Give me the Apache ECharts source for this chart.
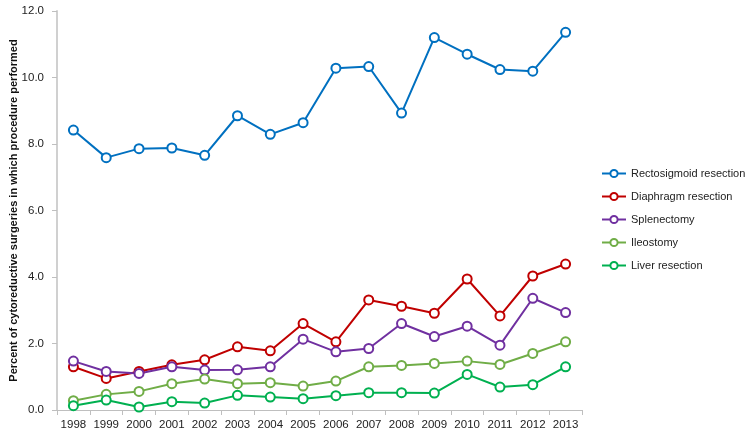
<!DOCTYPE html>
<html><head><meta charset="utf-8">
<script src="https://cdn.jsdelivr.net/npm/echarts@6/dist/echarts.min.js"></script>
<style>html,body{margin:0;padding:0;background:#fff}#c{width:754px;height:436px}</style>
</head><body><div id="c"></div>
<script>
const years = ['1998','1999','2000','2001','2002','2003','2004','2005','2006','2007','2008','2009','2010','2011','2012','2013'];
const rectosigmoid = [8.42,7.59,7.86,7.88,7.66,8.85,8.29,8.64,10.28,10.33,8.93,11.20,10.70,10.24,10.19,11.36];
const diaphragm = [1.30,0.95,1.16,1.36,1.51,1.90,1.78,2.60,2.05,3.31,3.12,2.91,3.94,2.83,4.03,4.39];
const splenectomy = [1.47,1.16,1.10,1.30,1.20,1.21,1.30,2.13,1.75,1.85,2.60,2.21,2.52,1.95,3.36,2.93];
const ileostomy = [0.28,0.47,0.56,0.79,0.93,0.79,0.82,0.72,0.87,1.30,1.34,1.40,1.47,1.37,1.70,2.05];
const liver = [0.13,0.30,0.09,0.25,0.21,0.44,0.39,0.34,0.43,0.52,0.52,0.51,1.07,0.69,0.76,1.30];
const seriesNames = ['Rectosigmoid resection','Diaphragm resection','Splenectomy','Ileostomy','Liver resection'];
const colors = ['#0070C0','#C00000','#7030A0','#70AD47','#00B050'];
const yTicks = {min:0, max:12, interval:2};

const font = 'Liberation Sans, Arial, sans-serif';
const dataSets = [rectosigmoid, diaphragm, splenectomy, ileostomy, liver];
const chart = echarts.init(document.getElementById('c'));
chart.setOption({
  animation:false,
  backgroundColor:'#fff',
  textStyle:{fontFamily:font},
  grid:{left:57,right:172,top:11,bottom:26,containLabel:false,outerBoundsMode:'none'},
  legend:{
    orient:'vertical', left:596, top:163, itemGap:12, itemWidth:24, itemHeight:9,
    textStyle:{fontSize:11,color:'#222',fontFamily:font},
    data:seriesNames
  },
  xAxis:{
    type:'category', data:years, boundaryGap:true,
    axisLine:{lineStyle:{color:'#bfbfbf',width:1}},
    axisTick:{show:true,length:5,lineStyle:{color:'#bfbfbf'}},
    axisLabel:{fontSize:11.5,color:'#222',margin:9,fontFamily:font,interval:0}
  },
  yAxis:{
    type:'value', min:yTicks.min, max:yTicks.max, interval:yTicks.interval,
    name:'Percent of cytoreductive surgeries in which procedure performed',
    nameLocation:'middle', nameGap:38, nameRotate:90, nameMoveOverlap:false,
    nameTextStyle:{fontSize:11,fontWeight:'bold',color:'#111',fontFamily:font},
    axisLine:{show:true,lineStyle:{color:'#d0d0d0',width:2}},
    axisTick:{show:true,length:5,lineStyle:{color:'#bfbfbf'}},
    splitLine:{show:false},
    axisLabel:{fontSize:11.5,color:'#222',margin:13,fontFamily:font,formatter:v=>v.toFixed(1)}
  },
  series:seriesNames.map((n,i)=>({
    name:n, type:'line', data:dataSets[i],
    symbol:'emptyCircle', symbolSize:9,
    lineStyle:{color:colors[i],width:2},
    itemStyle:{color:colors[i],borderColor:colors[i],borderWidth:2.2},
    emphasis:{disabled:true}
  }))
});
</script></body></html>
